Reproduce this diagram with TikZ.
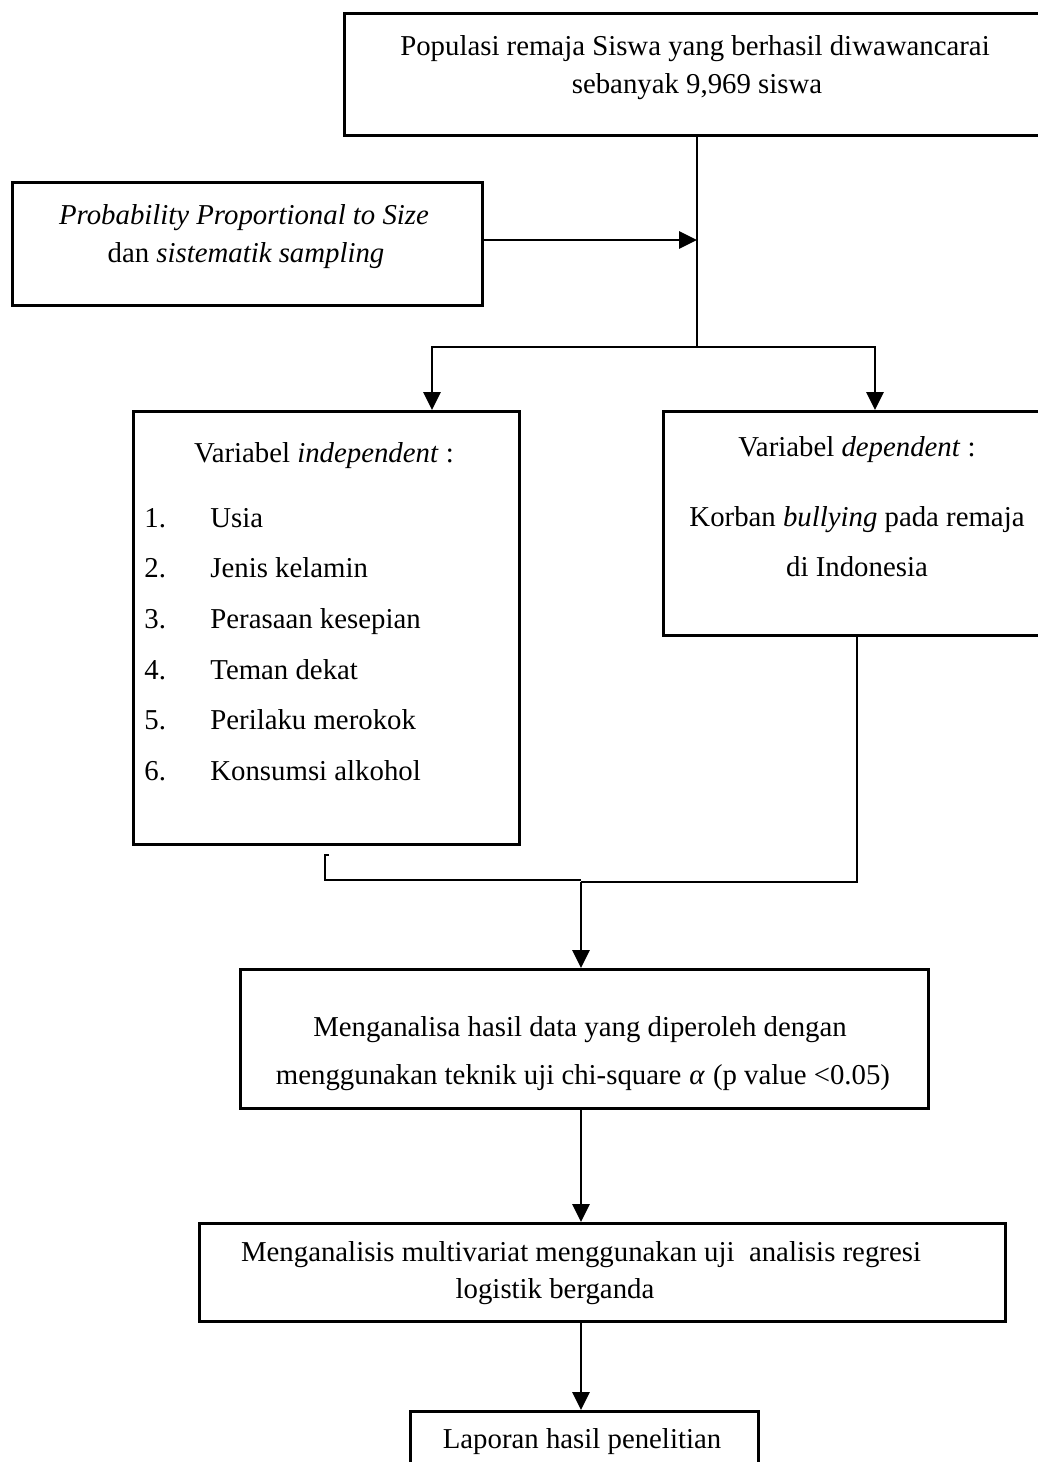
\documentclass[tikz,border=0pt]{standalone}
\usepackage{fontspec}
\setmainfont{Liberation Serif}
\usetikzlibrary{arrows.meta}
\begin{document}
\begin{tikzpicture}[x=1pt,y=-1pt,line width=2.8pt,
  box/.style={draw,rectangle,inner sep=0pt,line width=2.8pt,anchor=north west},
  txt/.style={anchor=base,inner sep=0pt,font=\fontsize{28.8}{34}\selectfont},
  ltxt/.style={anchor=base west,inner sep=0pt,font=\fontsize{28.8}{34}\selectfont},
  arr/.style={-{Triangle[length=18pt,width=17pt]}}]
\useasboundingbox (0,0) rectangle (1038,1462);
\clip (0,0) rectangle (1038,1462);
% boxes
\node[box,minimum width=720pt,minimum height=122pt] (top) at (343,12) {};
\node[box,minimum width=470pt,minimum height=123pt] (pps) at (11,181) {};
\node[box,minimum width=386pt,minimum height=433pt] (indep) at (132,410) {};
\node[box,minimum width=420pt,minimum height=224pt] (dep) at (662,410) {};
\node[box,minimum width=688pt,minimum height=139pt] (anal) at (239,968) {};
\node[box,minimum width=806pt,minimum height=98pt] (multi) at (198,1222) {};
\node[box,minimum width=348pt,minimum height=100pt] (lap) at (409,1410) {};
% texts
\node[txt] (t1) at (695,55) {Populasi remaja Siswa yang berhasil diwawancarai};
\node[txt] (t2) at (697,93) {sebanyak 9,969 siswa};
\node[txt] (p1) at (244,224) {\textit{Probability Proportional to Size}};
\node[txt] (p2) at (246,262) {dan \textit{sistematik sampling}};
\node[txt] (i0) at (324,462) {Variabel \textit{independent} :};
\node[ltxt] (n1) at (143,527) {1.};
\node[ltxt] (n2) at (143,577) {2.};
\node[ltxt] (n3) at (143,628) {3.};
\node[ltxt] (n4) at (143,679) {4.};
\node[ltxt] (n5) at (143,729) {5.};
\node[ltxt] (n6) at (143,780) {6.};
\node[ltxt] (v1) at (209,527) {Usia};
\node[ltxt] (v2) at (209,577) {Jenis kelamin};
\node[ltxt] (v3) at (209,628) {Perasaan kesepian};
\node[ltxt] (v4) at (209,679) {Teman dekat};
\node[ltxt] (v5) at (209,729) {Perilaku merokok};
\node[ltxt] (v6) at (209,780) {Konsumsi alkohol};
\node[txt] (d0) at (857,456) {Variabel \textit{dependent} :};
\node[txt] (d1) at (857,526) {Korban \textit{bullying} pada remaja};
\node[txt] (d2) at (857,576) {di Indonesia};
\node[txt] (a1) at (580,1036) {Menganalisa hasil data yang diperoleh dengan};
\node[txt] (a2) at (583,1084) {menggunakan teknik uji chi-square\hspace{8pt}\textit{α}\hspace{8pt}(p value <0.05)};
\node[txt] (m1) at (581,1261) {Menganalisis multivariat menggunakan uji\ \ analisis regresi};
\node[txt] (m2) at (555,1298) {logistik berganda};
\node[txt] (l1) at (582,1448) {Laporan hasil penelitian};
% connectors
\coordinate (j1) at (697,347);
\coordinate (jl) at (432,347);
\coordinate (jr) at (875,347);
\coordinate (ja) at (697,240);
\draw (top.south -| j1) -- (j1);
\draw[arr] (ja -| pps.east) -- (ja);
\draw[arr] (j1) -- (jl) -- (jl |- indep.north);
\draw[arr] (j1) -- (jr) -- (jr |- dep.north);
\coordinate (m) at (581,880);
\coordinate (mr) at (857,882);
\coordinate (bk) at (325,855);
\draw (dep.south -| mr) -- (mr) -- (mr -| m);
\draw ([xshift=4pt]bk) -- (bk) -- (bk |- m) -- (m);
\draw[arr] (mr -| m) -- (m |- anal.north);
\draw[arr] (anal.south -| m) -- (multi.north -| m);
\draw[arr] (multi.south -| m) -- (lap.north -| m);
\end{tikzpicture}
\end{document}
